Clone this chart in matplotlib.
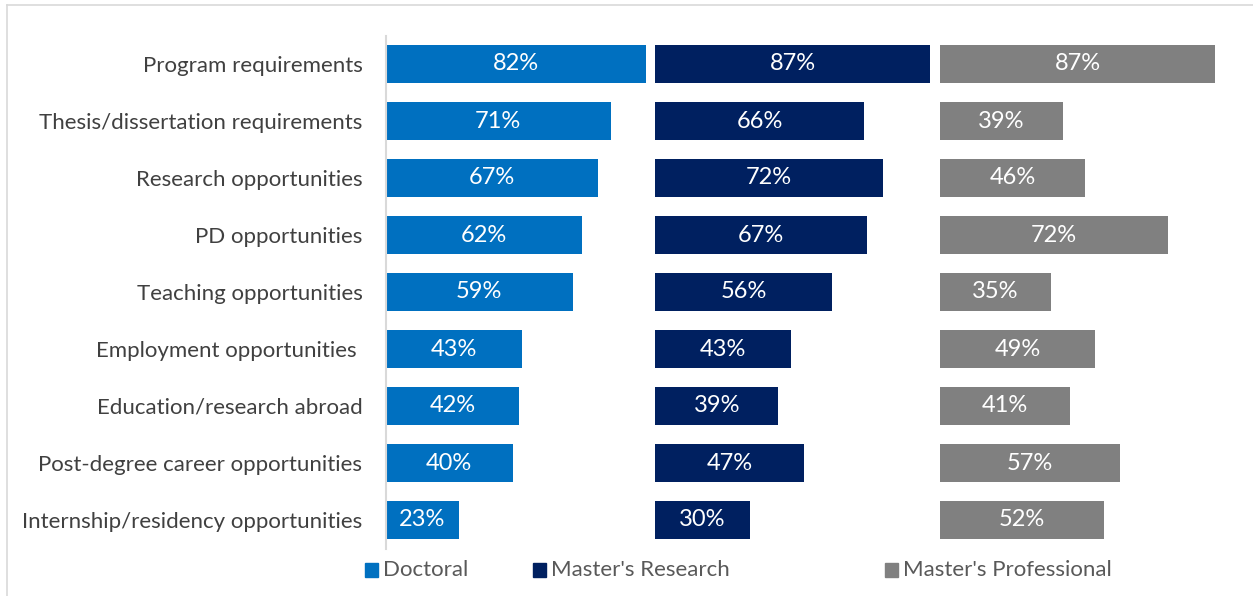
import matplotlib
matplotlib.use("Agg")
import matplotlib.pyplot as plt
from matplotlib.patches import Rectangle
from matplotlib.lines import Line2D

categories = [
    "Program requirements",
    "Thesis/dissertation requirements",
    "Research opportunities",
    "PD opportunities",
    "Teaching opportunities",
    "Employment opportunities ",
    "Education/research abroad",
    "Post-degree career opportunities",
    "Internship/residency opportunities",
]
series_names = ["Doctoral", "Master's Research", "Master's Professional"]
doctoral = [82, 71, 67, 62, 59, 43, 42, 40, 23]
masters_research = [87, 66, 72, 67, 56, 43, 39, 47, 30]
masters_professional = [87, 39, 46, 72, 35, 49, 41, 57, 52]

colors = ["#0070C0", "#002060", "#808080"]
offsets = [0, 85, 175]  # where each panel starts along the shared x axis

FONT = ["Lato", "DejaVu Sans"]
plt.rcParams["font.family"] = FONT

W, H = 1253, 596
fig = plt.figure(figsize=(W / 100, H / 100), dpi=100)

left_px, px_per_unit = 386, 3.165
xmax = 272
ax = fig.add_axes([left_px / W, 1 - 548.5 / H, xmax * px_per_unit / W, 513 / H])

ypos = list(range(len(categories)))
for vals, off, col in zip([doctoral, masters_research, masters_professional], offsets, colors):
    bars = ax.barh(ypos, vals, left=off, height=0.65, color=col)
    for b, v in zip(bars, vals):
        ax.text(b.get_x() + b.get_width() / 2, b.get_y() + b.get_height() / 2,
                f"{v}%", ha="center", va="center", color="white", fontsize=17)

ax.set_xlim(0, xmax)
ax.set_ylim(len(categories) - 0.5, -0.5)
ax.set_yticks(ypos)
ax.set_yticklabels(categories, fontsize=16, color="#404040")
ax.tick_params(axis="y", length=0, pad=17)
ax.set_xticks([])
for s in ["top", "right", "bottom"]:
    ax.spines[s].set_visible(False)
ax.spines["left"].set_color("#D9D9D9")
ax.spines["left"].set_linewidth(1.5)

# legend
leg_items = [(365, "Doctoral"), (533, "Master's Research"), (885, "Master's Professional")]
for (px, name), col in zip(leg_items, colors):
    fig.patches.append(Rectangle((px / W, 1 - 577 / H), 13 / W, 14 / H,
                                 transform=fig.transFigure, color=col))
    fig.text((px + 18) / W, 1 - 570 / H, name, ha="left", va="center",
             fontsize=16, color="#595959")

# outer frame
fig.add_artist(Line2D([7 / W, 1.0], [1 - 5 / H, 1 - 5 / H], transform=fig.transFigure,
                      color="#D9D9D9", lw=1.2))
fig.add_artist(Line2D([7 / W, 7 / W], [0, 1 - 5 / H], transform=fig.transFigure,
                      color="#D9D9D9", lw=1.2))

fig.savefig("out.png", dpi=100, facecolor="white")
